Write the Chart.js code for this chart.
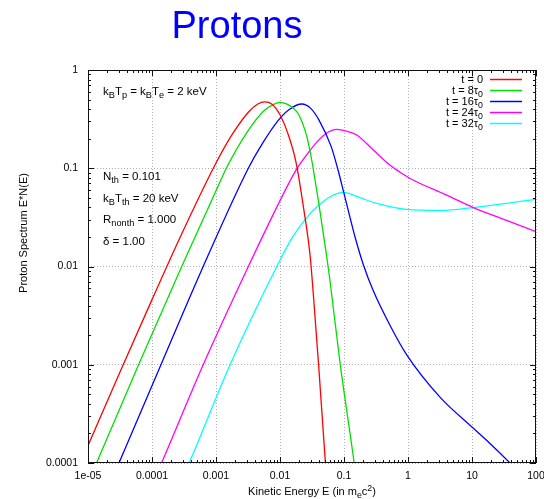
<!DOCTYPE html>
<html>
<head>
<meta charset="utf-8">
<script src="https://cdn.jsdelivr.net/npm/chart.js@4/dist/chart.umd.min.js"></script>
<style>
  html, body { margin: 0; padding: 0; background: #fff; }
  canvas { display: block; }
</style>
</head>
<body>
<canvas id="spectrumChart" width="544" height="499"></canvas>
<script>
// axis ticks
const xTicks = [1e-5, 1e-4, 1e-3, 1e-2, 1e-1, 1, 10, 100];
const xTickLabels = ['1e-05', '0.0001', '0.001', '0.01', '0.1', '1', '10', '100'];
const yTicks = [1e-4, 1e-3, 1e-2, 1e-1, 1];
const yTickLabels = ['0.0001', '0.001', '0.01', '0.1', '1'];

// series: kinetic energy (m_e c^2) and E*N(E)
const t0Energy = [1e-5, 3.2e-5, 1e-4, 3.2e-4, 1e-3, 1.8e-3, 3.2e-3, 4.5e-3, 5.8e-3, 7.5e-3, 0.01, 0.0133, 0.0178, 0.0237, 0.0295, 0.0335, 0.04, 0.05, 0.056];
const t0Spectrum = [1.5e-4, 8.6e-4, 4.6e-3, 0.0245, 0.113, 0.222, 0.372, 0.451, 0.473, 0.449, 0.35, 0.225, 0.115, 0.037, 0.013, 0.0048, 0.00102, 1.26e-4, 4.5e-5];

const t8Energy = [1.12e-5, 1.36e-5, 6.17e-5, 2.91e-4, 1e-3, 1.45e-3, 3.16e-3, 5.62e-3, 7.94e-3, 0.01, 0.0126, 0.0162, 0.0195, 0.0263, 0.0313, 0.0363, 0.0398, 0.0537, 0.0603, 0.0871, 0.14, 0.151];
const t8Spectrum = [7.4e-5, 1e-4, 1e-3, 0.01, 0.0589, 0.1, 0.24, 0.385, 0.447, 0.469, 0.452, 0.407, 0.355, 0.209, 0.121, 0.0676, 0.0468, 0.0126, 0.00724, 0.00102, 1.15e-4, 7.9e-5];

const t16Energy = [2.51e-5, 3.05e-5, 1.38e-4, 6.31e-4, 3.2e-3, 5.13e-3, 9.33e-3, 0.0141, 0.0219, 0.0302, 0.0407, 0.0631, 0.0794, 0.0977, 0.154, 0.2, 0.288, 0.525, 0.955, 3.16, 10, 19.1, 39.3, 50.1];
const t16Spectrum = [7.4e-5, 1e-4, 1e-3, 0.01, 0.1, 0.172, 0.305, 0.398, 0.451, 0.407, 0.309, 0.166, 0.1, 0.0589, 0.0184, 0.0105, 0.00562, 0.00251, 0.00126, 4.68e-4, 2.32e-4, 1.58e-4, 1e-4, 8.5e-5];

const t24Energy = [1.12e-4, 1.41e-4, 6.31e-4, 3.2e-3, 0.01, 0.0143, 0.0182, 0.0275, 0.0398, 0.0569, 0.0767, 0.112, 0.158, 0.288, 0.525, 0.75, 1.2, 4.03, 10.5, 34.7, 100];
const t24Spectrum = [7.1e-5, 1e-4, 1e-3, 0.01, 0.0468, 0.074, 0.098, 0.143, 0.192, 0.234, 0.249, 0.237, 0.218, 0.153, 0.107, 0.0912, 0.0759, 0.0533, 0.0398, 0.0295, 0.0226];

const t32Energy = [3.02e-4, 3.8e-4, 1.66e-3, 8.91e-3, 0.0158, 0.0263, 0.0398, 0.0603, 0.0794, 0.0977, 0.178, 0.324, 0.955, 3.16, 10.5, 34.7, 100];
const t32Spectrum = [7.2e-5, 1e-4, 1e-3, 0.01, 0.02, 0.0316, 0.0417, 0.0513, 0.0556, 0.0569, 0.0501, 0.044, 0.0381, 0.0372, 0.0398, 0.044, 0.0482];

const seriesLabels = ['t = 0', 't = 8τ_{0}', 't = 16τ_{0}', 't = 24τ_{0}', 't = 32τ_{0}'];
const seriesColors = ['#ff0000', '#00e000', '#0000ff', '#ff00ff', '#00ffff'];

const notes = [
    ['k_{B}T_{p} = k_{B}T_{e} = 2 keV', 95],
    ['N_{th} = 0.101', 180],
    ['k_{B}T_{th} = 20 keV', 202],
    ['R_{nonth} = 1.000', 223],
    ['δ = 1.00', 245]
];

const FONT = '"Liberation Sans", Arial, Helvetica, sans-serif';

function toPoints(xs, ys) {
    return xs.map((x, i) => ({ x: x, y: ys[i] }));
}

// text with _{sub} and ^{sup} parts
function drawRich(ctx, text, x, y, size, align) {
    const parts = [];
    const re = /([_^])\{([^}]*)\}|([^_^]+)/g;
    let m;
    while ((m = re.exec(text))) {
        if (m[3]) parts.push({ t: m[3], k: 0 });
        else parts.push({ t: m[2], k: m[1] === '_' ? 1 : -1 });
    }
    let width = 0;
    parts.forEach(p => {
        ctx.font = `${p.k ? size * 0.8 : size}px ${FONT}`;
        p.w = ctx.measureText(p.t).width;
        width += p.w;
    });
    let cx = align === 'right' ? x - width : align === 'center' ? x - width / 2 : x;
    ctx.textAlign = 'left';
    ctx.textBaseline = 'alphabetic';
    parts.forEach(p => {
        ctx.font = `${p.k ? size * 0.8 : size}px ${FONT}`;
        const dy = p.k === 1 ? size * 0.3 : p.k === -1 ? -size * 0.4 : 0;
        ctx.fillText(p.t, cx, y + dy);
        cx += p.w;
    });
}

const decorPlugin = {
    id: 'decor',
    afterDraw(chart) {
        const ctx = chart.ctx;
        const area = chart.chartArea;
        const xs = chart.scales.x;
        const ys = chart.scales.y;
        ctx.save();

        // frame
        ctx.strokeStyle = '#111';
        ctx.lineWidth = 1;
        ctx.strokeRect(area.left + 0.5, area.top + 0.5, area.right - area.left - 1, area.bottom - area.top - 1);

        // inward tick marks on all four sides
        ctx.beginPath();
        for (let d = -5; d < 2; d++) {
            for (let k = 1; k <= 10; k++) {
                const v = k * Math.pow(10, d);
                const px = Math.round(xs.getPixelForValue(v)) + 0.5;
                const len = (k === 1 || k === 10) ? 6 : 3;
                ctx.moveTo(px, area.bottom);
                ctx.lineTo(px, area.bottom - len);
                ctx.moveTo(px, area.top);
                ctx.lineTo(px, area.top + len);
            }
        }
        for (let d = -4; d < 0; d++) {
            for (let k = 1; k <= 10; k++) {
                const v = k * Math.pow(10, d);
                const py = Math.round(ys.getPixelForValue(v)) + 0.5;
                const len = (k === 1 || k === 10) ? 6 : 3;
                ctx.moveTo(area.left, py);
                ctx.lineTo(area.left + len, py);
                ctx.moveTo(area.right, py);
                ctx.lineTo(area.right - len, py);
            }
        }
        ctx.stroke();

        // title
        ctx.fillStyle = '#0000ff';
        drawRich(ctx, 'Protons', 237, 38, 38, 'center');

        // axis titles
        ctx.fillStyle = '#000';
        drawRich(ctx, 'Kinetic Energy E (in m_{e}c^{2})', 312, 495, 11, 'center');
        ctx.save();
        ctx.translate(27, 233);
        ctx.rotate(-Math.PI / 2);
        drawRich(ctx, 'Proton Spectrum E*N(E)', 0, 0, 11, 'center');
        ctx.restore();

        // parameter notes
        notes.forEach(([text, y]) => drawRich(ctx, text, area.left + 15, y, 11.5, 'left'));

        // legend
        chart.data.datasets.forEach((ds, i) => {
            const ly = area.top + 9 + i * 11;
            ctx.fillStyle = '#000';
            drawRich(ctx, ds.label, area.right - 53, ly + 4, 11, 'right');
            ctx.strokeStyle = ds.borderColor;
            ctx.lineWidth = 1.5;
            ctx.beginPath();
            ctx.moveTo(area.right - 46, ly + 0.5);
            ctx.lineTo(area.right - 14, ly + 0.5);
            ctx.stroke();
        });
        ctx.restore();
    }
};

const allEnergy = [t0Energy, t8Energy, t16Energy, t24Energy, t32Energy];
const allSpectrum = [t0Spectrum, t8Spectrum, t16Spectrum, t24Spectrum, t32Spectrum];

const ctx = document.getElementById('spectrumChart').getContext('2d');
new Chart(ctx, {
    type: 'scatter',
    data: {
        datasets: seriesLabels.map((label, i) => ({
            label: label,
            data: toPoints(allEnergy[i], allSpectrum[i]),
            showLine: true,
            borderColor: seriesColors[i],
            borderWidth: 1.3,
            pointRadius: 0,
            cubicInterpolationMode: 'monotone',
            fill: false
        }))
    },
    options: {
        responsive: false,
        animation: false,
        devicePixelRatio: 1,
        layout: { padding: { top: 70, right: 8, left: 0, bottom: 0 } },
        plugins: {
            legend: { display: false },
            tooltip: { enabled: false }
        },
        scales: {
            x: {
                type: 'logarithmic',
                min: 1e-5,
                max: 100,
                afterBuildTicks: s => { s.ticks = xTicks.map(v => ({ value: v })); },
                afterFit: s => { s.height = 36; s.paddingLeft = 0; s.paddingRight = 0; },
                ticks: {
                    callback: (v, i) => xTickLabels[i],
                    autoSkip: false,
                    maxRotation: 0,
                    padding: 7,
                    color: '#000',
                    font: { family: FONT, size: 10.5 }
                },
                grid: { color: '#b0b0b0', drawTicks: false, lineWidth: 1 },
                border: { display: false, dash: [1, 2] }
            },
            y: {
                type: 'logarithmic',
                min: 1e-4,
                max: 1,
                afterBuildTicks: s => { s.ticks = yTicks.map(v => ({ value: v })); },
                afterFit: s => { s.width = 88; s.paddingTop = 0; s.paddingBottom = 0; },
                ticks: {
                    callback: (v, i) => yTickLabels[i],
                    autoSkip: false,
                    padding: 10,
                    color: '#000',
                    font: { family: FONT, size: 10.5 }
                },
                grid: { color: '#b0b0b0', drawTicks: false, lineWidth: 1 },
                border: { display: false, dash: [1, 2] }
            }
        }
    },
    plugins: [decorPlugin]
});
</script>
</body>
</html>
